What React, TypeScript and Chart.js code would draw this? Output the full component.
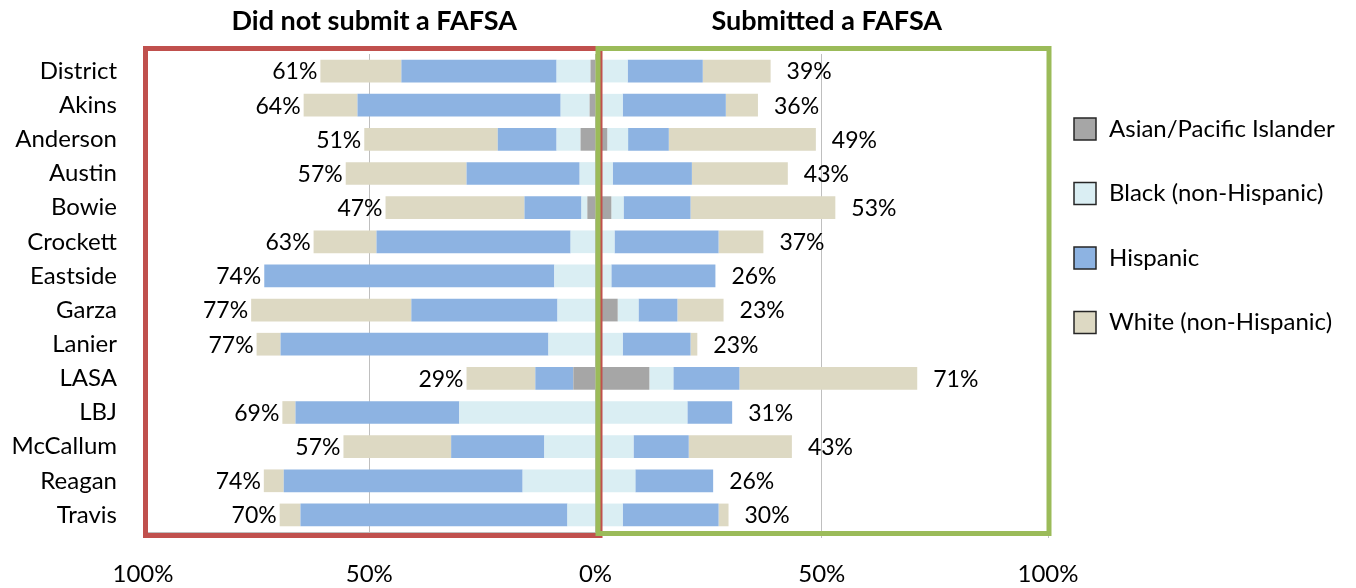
import React, { useEffect, useRef } from 'react';
import { Chart, registerables } from 'chart.js';

Chart.register(...registerables);

// ---------- data ----------
const categories = ['District', 'Akins', 'Anderson', 'Austin', 'Bowie', 'Crockett', 'Eastside', 'Garza', 'Lanier', 'LASA', 'LBJ', 'McCallum', 'Reagan', 'Travis'];

// Did not submit a FAFSA (share of students, %)
const notAsian = [1.1, 1.3, 3.3, 0, 1.8, 0, 0, 0, 0, 4.9, 0, 0, 0, 0];
const notBlack = [7.5, 6.4, 5.3, 3.5, 1.3, 5.5, 9.1, 8.4, 10.4, 0, 30.1, 11.3, 16.1, 6.2];
const notHispanic = [34.3, 44.9, 13.0, 25.0, 12.6, 42.9, 64.1, 32.3, 59.2, 8.4, 36.2, 20.6, 52.8, 59.0];
const notWhite = [17.9, 11.9, 29.5, 26.7, 30.7, 13.9, 0, 35.4, 5.3, 15.2, 2.9, 23.8, 4.4, 4.6];
const notTotalLabels = [61, 64, 51, 57, 47, 63, 74, 77, 77, 29, 69, 57, 74, 70];

// Submitted a FAFSA (share of students, %)
const subAsian = [0, 0, 2.6, 0, 3.5, 0, 0, 4.9, 0, 11.9, 0, 0, 0, 0];
const subBlack = [7.1, 6.0, 4.6, 3.8, 2.7, 4.2, 3.5, 4.6, 6.0, 5.3, 20.3, 8.4, 8.8, 6.0];
const subHispanic = [16.6, 22.8, 9.0, 17.5, 14.8, 23.0, 23.0, 8.6, 15.0, 14.6, 9.9, 12.2, 17.2, 21.2];
const subWhite = [15.0, 7.1, 32.5, 21.2, 32.0, 9.9, 0, 10.2, 1.5, 39.3, 0, 22.8, 0, 2.2];
const subTotalLabels = [39, 36, 49, 43, 53, 37, 26, 23, 23, 71, 31, 43, 26, 30];

const groupTitles = ['Did not submit a FAFSA', 'Submitted a FAFSA'];
const xTicks = [-100, -50, 0, 50, 100];

const legendNames = ['Asian/Pacific Islander', 'Black (non-Hispanic)', 'Hispanic', 'White (non-Hispanic)'];

// ---------- styles ----------
const COLORS = ['#A6A6A6', '#DAEEF3', '#8DB3E2', '#DDD9C3'];
const RED = '#C0504D';
const GREEN = '#9BBB59';
const GRID = '#BFBFBF';
const FAMILY = 'Lato, "Open Sans", "DejaVu Sans", sans-serif';

export default function App() {
  const ref = useRef<HTMLCanvasElement>(null);

  useEffect(() => {
    const canvas = ref.current;
    if (!canvas) return;

    const leftSeries = [notAsian, notBlack, notHispanic, notWhite];
    const rightSeries = [subAsian, subBlack, subHispanic, subWhite];
    const leftSums = categories.map((_, i) => leftSeries.reduce((a, s) => a + s[i], 0));
    const rightSums = categories.map((_, i) => rightSeries.reduce((a, s) => a + s[i], 0));

    const datasets: any[] = [];
    leftSeries.forEach((s, i) =>
      datasets.push({ label: legendNames[i], data: s.map((v) => -v), backgroundColor: COLORS[i], borderWidth: 0 })
    );
    rightSeries.forEach((s, i) =>
      datasets.push({ label: legendNames[i], data: s.slice(), backgroundColor: COLORS[i], borderWidth: 0 })
    );

    const overlay = {
      id: 'overlay',
      afterDatasetsDraw(chart: any) {
        const ctx = chart.ctx as CanvasRenderingContext2D;
        const xs = chart.scales.x;
        const ys = chart.scales.y;
        const ca = chart.chartArea;
        const zero = xs.getPixelForValue(0);
        ctx.save();
        // boxes
        ctx.lineWidth = 5;
        ctx.lineJoin = 'miter';
        ctx.strokeStyle = RED;
        ctx.strokeRect(xs.left + 2.5, ca.top - 5.5, zero + 4.5 - (xs.left + 2.5), ca.bottom + 3.5 - (ca.top - 5.5));
        ctx.strokeStyle = GREEN;
        ctx.strokeRect(zero + 2.5, ca.top - 5.5, xs.right + 1 - (zero + 2.5), ca.bottom + 1.5 - (ca.top - 5.5));

        // value labels
        ctx.fillStyle = '#000';
        ctx.font = `23px ${FAMILY}`;
        ctx.textBaseline = 'middle';
        categories.forEach((_, i) => {
          const y = ys.getPixelForValue(i) + 1;
          ctx.textAlign = 'right';
          ctx.fillText(`${notTotalLabels[i]}%`, xs.getPixelForValue(-leftSums[i]) - 3, y);
          ctx.textAlign = 'left';
          ctx.fillText(`${subTotalLabels[i]}%`, xs.getPixelForValue(rightSums[i]) + 16, y);
        });
        ctx.restore();
      },
      afterDraw(chart: any) {
        const ctx = chart.ctx as CanvasRenderingContext2D;
        const xs = chart.scales.x;
        ctx.save();
        ctx.fillStyle = '#000';
        ctx.textBaseline = 'middle';
        ctx.textAlign = 'center';
        ctx.font = `bold 27px ${FAMILY}`;
        ctx.fillText(groupTitles[0], xs.getPixelForValue(-50) + 5, 21);
        ctx.fillText(groupTitles[1], xs.getPixelForValue(50) + 5, 21);

        // legend
        ctx.textAlign = 'left';
        ctx.font = `24px ${FAMILY}`;
        legendNames.forEach((name, i) => {
          const cy = 129 + i * 64.5;
          ctx.fillStyle = COLORS[i];
          ctx.fillRect(1074, cy - 11, 22, 22);
          ctx.strokeStyle = '#262626';
          ctx.lineWidth = 1.5;
          ctx.strokeRect(1074, cy - 11, 22, 22);
          ctx.fillStyle = '#000';
          ctx.fillText(name, 1109, cy);
        });
        ctx.restore();
      },
    };

    const chart = new Chart(canvas, {
      type: 'bar',
      data: { labels: categories, datasets },
      options: {
        indexAxis: 'y',
        animation: false,
        responsive: false,
        maintainAspectRatio: false,
        layout: { padding: { left: 0, right: 308, top: 54, bottom: 0 } },
        datasets: { bar: { categoryPercentage: 0.665, barPercentage: 1 } },
        scales: {
          x: {
            type: 'linear',
            stacked: true,
            min: -100,
            max: 100,
            afterBuildTicks: (s: any) => {
              s.ticks = xTicks.map((v) => ({ value: v }));
            },
            ticks: {
              callback: (v: any) => `${Math.abs(Number(v))}%`,
              font: { family: FAMILY, size: 24 },
              color: '#000',
              padding: 22,
              maxRotation: 0,
            },
            grid: { color: GRID, lineWidth: 1, drawTicks: true, tickLength: 6 },
            border: { display: true, color: GRID },
            afterFit: (s: any) => {
              s.height = 56;
            },
          },
          y: {
            stacked: true,
            ticks: { font: { family: FAMILY, size: 24 }, color: '#000', padding: 26 },
            grid: { display: false, drawTicks: false },
            border: { display: true, color: GRID },
            afterFit: (s: any) => {
              s.width = 143;
            },
          },
        },
        plugins: { legend: { display: false }, tooltip: { enabled: false } },
      } as any,
      plugins: [overlay],
    });

    return () => chart.destroy();
  }, []);

  return (
    <div style={{ position: 'fixed', left: 0, top: 0, width: 1356, height: 588, background: '#fff' }}>
      <canvas ref={ref} width={1356} height={588} style={{ display: 'block', width: 1356, height: 588 }} />
    </div>
  );
}
